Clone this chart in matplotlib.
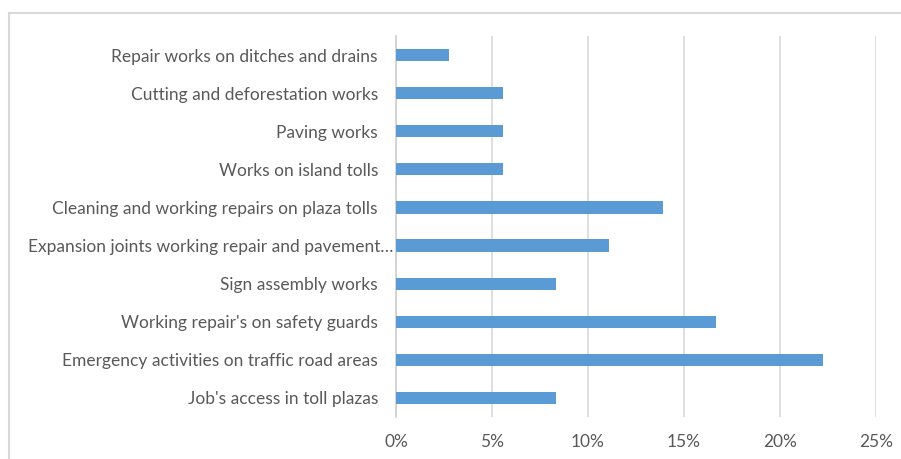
import matplotlib
matplotlib.use("Agg")
from matplotlib import pyplot as plt
from matplotlib.lines import Line2D
from matplotlib.ticker import FuncFormatter
from matplotlib.transforms import ScaledTranslation

categories = [
    "Job's access in toll plazas",
    "Emergency activities on traffic road areas",
    "Working repair's on safety guards",
    "Sign assembly works",
    "Expansion joints working repair and pavement\u2026",
    "Cleaning and working repairs on plaza tolls",
    "Works on island tolls",
    "Paving works",
    "Cutting and deforestation works",
    "Repair works on ditches and drains",
]
shares = [8.33, 22.22, 16.67, 8.33, 11.11, 13.89, 5.56, 5.56, 5.56, 2.78]
xticks = [0, 5, 10, 15, 20, 25]

text_color = "#595959"
plt.rcParams['font.family'] = ['Lato', 'DejaVu Sans']

fig = plt.figure(figsize=(9.01, 4.59), dpi=100)
ax = fig.add_axes([396 / 901, 1 - 417 / 459, 480 / 901, 381 / 459])

ax.barh(range(len(categories)), shares, height=0.32, color="#5b9bd5", zorder=3)

ax.set_xlim(0, 25)
ax.set_ylim(-0.5, len(categories) - 0.5)
ax.set_xticks(xticks)
ax.xaxis.set_major_formatter(FuncFormatter(lambda v, p: f"{v:.0f}%"))
ax.set_yticks(range(len(categories)))
ax.set_yticklabels(categories)
ax.grid(axis="x", color="#d9d9d9", linewidth=1.2, zorder=0)

for side in ["top", "right", "bottom"]:
    ax.spines[side].set_visible(False)
ax.spines["left"].set_color("#d0d0d0")
ax.spines["left"].set_linewidth(1.2)
ax.tick_params(axis="both", length=0, labelsize=12.5, colors=text_color)
ax.tick_params(axis="y", pad=13)
ax.tick_params(axis="x", pad=12)

# the truncated label sits a bit further right in the original
for lbl in ax.get_yticklabels():
    if lbl.get_text().endswith("\u2026"):
        lbl.set_transform(lbl.get_transform() + ScaledTranslation(0.15, 0, fig.dpi_scale_trans))

# outer chart frame (top and left edges visible in the crop)
fig.add_artist(Line2D([9 / 901, 1], [1 - 13 / 459, 1 - 13 / 459],
                      transform=fig.transFigure, color="#d9d9d9", linewidth=1.5))
fig.add_artist(Line2D([9 / 901, 9 / 901], [0, 1 - 13 / 459],
                      transform=fig.transFigure, color="#d9d9d9", linewidth=1.5))

fig.savefig("out.png", dpi=100)
